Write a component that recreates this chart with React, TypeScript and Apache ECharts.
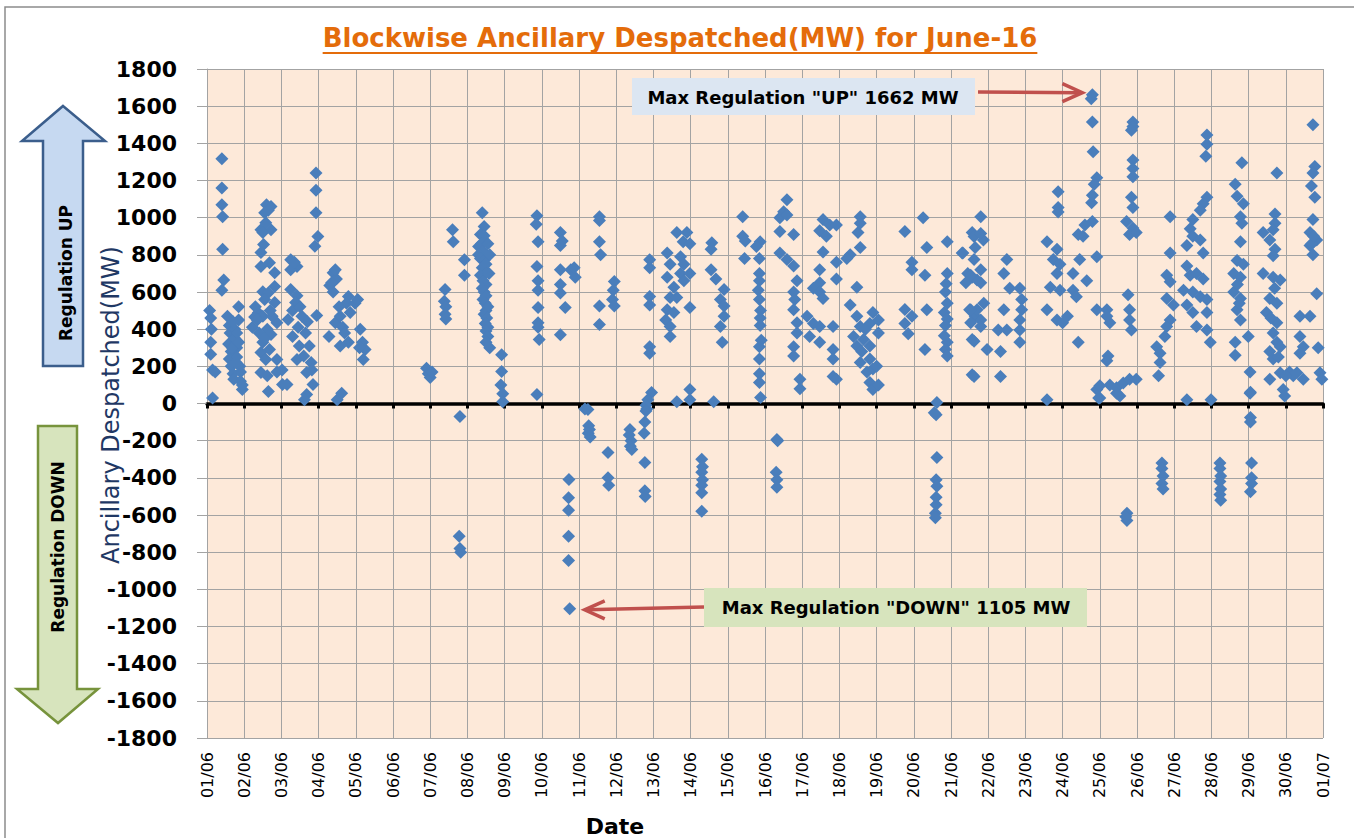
import React, { useEffect, useRef } from "react";
import * as echarts from "echarts";

// x = days elapsed since 01/06 00:00 (block position), y = MW despatched
const dateLabels = [
  "01/06", "02/06", "03/06", "04/06", "05/06", "06/06", "07/06", "08/06", "09/06", "10/06",
  "11/06", "12/06", "13/06", "14/06", "15/06", "16/06", "17/06", "18/06", "19/06", "20/06",
  "21/06", "22/06", "23/06", "24/06", "25/06", "26/06", "27/06", "28/06", "29/06", "30/06", "01/07",
];

const week1 = [
  [0.07, 500], [0.1, 460], [0.12, 400], [0.1, 330], [0.1, 265], [0.15, 180], [0.22, 170], [0.15, 30],
  [0.4, 1317], [0.4, 1160], [0.4, 1070], [0.42, 1005], [0.42, 830], [0.45, 665], [0.4, 610],
  [0.55, 470], [0.6, 420], [0.62, 380], [0.58, 320], [0.65, 280], [0.6, 240], [0.65, 200], [0.7, 160],
  [0.72, 130], [0.75, 400], [0.75, 350], [0.8, 300], [0.8, 250], [0.85, 520], [0.85, 450], [0.88, 200],
  [0.9, 170], [0.9, 120], [0.95, 75], [0.95, 100], [0.7, 440], [0.8, 380], [0.68, 300], [0.78, 220], [0.85, 330],
  [1.6, 1070], [1.72, 1060], [1.65, 1040], [1.55, 1027], [1.58, 973], [1.45, 935], [1.72, 935], [1.5, 920],
  [1.52, 855], [1.45, 812], [1.68, 758], [1.45, 737], [1.82, 704], [1.82, 629], [1.5, 602], [1.65, 596],
  [1.82, 543], [1.38, 489], [1.5, 470], [1.28, 465], [1.88, 435], [1.22, 410], [1.62, 400], [1.72, 371],
  [1.5, 330], [1.68, 290], [1.45, 275], [1.58, 237], [1.88, 237], [1.45, 167], [1.62, 150], [1.88, 170],
  [1.65, 65], [1.35, 450], [1.4, 380], [1.55, 350], [1.75, 470], [1.3, 520], [1.55, 560], [1.7, 500],
  [2.03, 102], [2.02, 180], [2.25, 774], [2.42, 737], [2.25, 720], [2.35, 760], [2.25, 613], [2.42, 580],
  [2.38, 543], [2.18, 452], [2.55, 470], [2.45, 410], [2.65, 380], [2.3, 360], [2.48, 310], [2.75, 310],
  [2.6, 255], [2.42, 237], [2.8, 220], [2.68, 167], [2.15, 102], [2.68, 48], [2.62, 20], [2.85, 102],
  [2.82, 180], [2.93, 1241], [2.93, 1147], [2.93, 1027], [2.98, 898], [2.9, 846], [2.95, 473], [2.3, 500],
  [2.5, 520], [2.7, 440],
  [3.39, 704], [3.48, 670], [3.3, 635], [3.39, 600], [3.28, 360], [3.45, 435], [3.58, 470], [3.8, 576],
  [3.75, 540], [3.85, 490], [3.65, 410], [3.8, 330], [3.58, 310], [3.5, 20], [3.62, 55], [3.45, 720],
  [3.35, 650], [3.7, 380], [3.55, 520],
  [4.12, 400], [4.18, 330], [4.25, 290], [4.2, 237], [3.98, 540], [4.05, 560], [4.1, 300],
  [5.9, 190], [5.95, 160], [6.0, 140], [6.05, 170], [6.4, 613], [6.38, 550], [6.42, 520], [6.4, 480],
  [6.42, 455], [6.6, 935], [6.62, 870], [6.92, 774], [6.92, 690], [6.8, -70], [6.78, -715], [6.8, -780],
  [6.82, -800],
];

const week2 = [
  [7.4, 1027], [7.45, 952], [7.35, 910], [7.45, 903], [7.3, 845], [7.38, 860], [7.42, 820], [7.3, 800],
  [7.35, 780], [7.45, 770], [7.5, 750], [7.4, 730], [7.48, 700], [7.35, 690], [7.42, 660], [7.5, 640],
  [7.4, 620], [7.45, 600], [7.5, 580], [7.42, 560], [7.48, 540], [7.55, 520], [7.5, 500], [7.45, 480],
  [7.52, 460], [7.48, 430], [7.55, 410], [7.5, 390], [7.55, 360], [7.5, 330], [7.6, 300], [7.92, 263],
  [7.92, 172], [7.9, 100], [7.95, 52], [7.95, 10], [7.55, 860], [7.6, 800], [7.58, 700],
  [8.87, 1010], [8.85, 965], [8.9, 870], [8.87, 737], [8.9, 660], [8.9, 610], [8.9, 516], [8.9, 435],
  [8.9, 410], [8.93, 344], [8.87, 48],
  [9.5, 920], [9.55, 875], [9.5, 850], [9.5, 720], [9.78, 720], [9.87, 730], [9.9, 680], [9.5, 640],
  [9.5, 595], [9.63, 516], [9.5, 370], [9.73, -409], [9.72, -507], [9.72, -574], [9.72, -714],
  [9.72, -845], [9.75, -1105],
  [10.16, -30], [10.24, -32], [10.26, -120], [10.28, -140], [10.25, -160], [10.3, -180], [10.78, -264],
  [10.78, -400], [10.8, -440], [10.55, 1005], [10.55, 985], [10.55, 870], [10.58, 800], [10.95, 656],
  [10.92, 610], [10.9, 560], [10.95, 525], [10.55, 525], [10.55, 425],
  [11.9, 774], [11.9, 730], [11.9, 576], [11.9, 530], [11.9, 306], [11.9, 270], [11.95, 59], [11.85, 20],
  [11.82, -30], [11.37, -140], [11.35, -170], [11.4, -200], [11.38, -230], [11.42, -247], [11.77, -100],
  [11.75, -160], [11.77, -317], [11.77, -470], [11.78, -500], [11.8, -10], [11.8, -40],
  [12.63, 920], [12.9, 920], [12.8, 870], [12.98, 860], [12.37, 810], [12.73, 790], [12.45, 750],
  [12.82, 750], [12.37, 680], [12.73, 700], [12.98, 700], [12.55, 625], [12.82, 660], [12.45, 570],
  [12.63, 570], [12.37, 505], [12.55, 490], [12.98, 516], [12.33, 450], [12.45, 415], [12.45, 360],
  [12.63, 10], [12.98, 75], [12.98, 20],
  [13.57, 865], [13.55, 830], [13.55, 720], [13.68, 670], [13.9, 613], [13.8, 560], [13.9, 525],
  [13.9, 470], [13.8, 415], [13.85, 330], [13.62, 10], [13.3, -300], [13.32, -340], [13.3, -370],
  [13.32, -410], [13.3, -440], [13.3, -480], [13.3, -580],
];

const week3 = [
  [14.4, 1005], [14.4, 900], [14.47, 875], [14.87, 870], [14.77, 845], [14.45, 780], [14.85, 780],
  [14.85, 700], [14.85, 660], [14.82, 610], [14.85, 306], [14.85, 240], [14.85, 160], [14.85, 113],
  [14.88, 32], [14.85, 560], [14.88, 500], [14.87, 460], [14.87, 420], [14.9, 340],
  [15.59, 1097], [15.5, 1032], [15.4, 1000], [15.59, 1015], [15.4, 925], [15.77, 910], [15.4, 810],
  [15.59, 775], [15.77, 740], [15.86, 660], [15.77, 600], [15.8, 560], [15.77, 505], [15.86, 435],
  [15.86, 380], [15.77, 305], [15.77, 255], [15.94, 130], [15.94, 80], [15.32, -194], [15.34, -200],
  [15.3, -370], [15.32, -410], [15.32, -450],
  [16.56, 990], [16.74, 960], [16.92, 960], [16.47, 930], [16.65, 900], [16.56, 815], [16.92, 760],
  [16.47, 720], [16.47, 650], [16.3, 620], [16.47, 600], [16.56, 565], [16.13, 470], [16.3, 430],
  [16.47, 415], [16.83, 415], [16.2, 360], [16.47, 330], [16.83, 290], [16.83, 240], [16.83, 145],
  [16.92, 130], [16.92, 670],
  [17.56, 1005], [17.56, 970], [17.5, 920], [17.56, 840], [17.29, 800], [17.2, 780], [17.47, 625],
  [17.29, 530], [17.47, 470], [17.9, 490], [17.56, 415], [17.82, 430], [17.38, 360], [17.65, 345],
  [17.47, 310], [17.82, 310], [17.56, 220], [17.82, 240], [17.74, 170], [17.9, 185], [17.82, 113],
  [17.9, 75], [17.7, 400], [17.6, 280], [18.05, 450], [18.05, 380], [18.0, 200], [18.05, 100],
  [18.76, 925], [18.95, 760], [18.95, 720], [18.76, 506], [18.95, 470], [18.76, 430], [18.85, 375],
  [19.25, 1000], [19.35, 840], [19.3, 690], [19.3, 290], [19.35, 505], [19.9, 870], [19.9, 700],
  [19.87, 645], [19.85, 600], [19.9, 540], [19.82, 490], [19.9, 455], [19.85, 420], [19.82, 365],
  [19.9, 330], [19.85, 290], [19.9, 255], [19.62, 5], [19.6, -60], [19.62, -290], [19.6, -410],
  [19.62, -445], [19.6, -505], [19.6, -545], [19.58, -590], [19.58, -615], [19.55, -50],
  [20.57, 920], [20.3, 810], [20.65, 840], [20.45, 700], [20.57, 680], [20.7, 665], [20.5, 505],
  [20.65, 470], [20.57, 345], [20.57, 155],
];

const week4 = [
  [20.8, 1005], [20.62, 898], [20.87, 880], [20.8, 915], [20.32, 810], [20.62, 775], [20.8, 720],
  [20.53, 690], [20.8, 650], [20.4, 650], [20.88, 540], [20.7, 505], [20.53, 505], [20.8, 450],
  [20.53, 435], [20.8, 415], [20.62, 335], [20.97, 290], [20.62, 145],
  [21.5, 775], [21.42, 700], [21.58, 620], [21.85, 620], [21.9, 560], [21.9, 505], [21.42, 505],
  [21.27, 395], [21.5, 395], [21.85, 450], [21.85, 395], [21.85, 330], [21.33, 280], [21.33, 145],
  [22.58, 20], [22.88, 1140], [22.88, 1055], [22.88, 1030], [22.58, 870], [22.85, 830], [22.75, 775],
  [22.93, 750], [22.85, 700], [22.67, 625], [22.93, 610], [22.58, 505], [22.85, 450], [23.0, 435],
  [23.13, 470],
  [23.28, 700], [23.46, 775], [23.55, 900], [23.42, 910], [23.28, 610], [23.37, 575], [23.65, 660],
  [23.42, 330], [23.6, 960], [23.8, 980], [23.78, 1080], [23.8, 1120], [23.92, 1215], [23.85, 1180],
  [23.82, 1355], [23.8, 1515], [23.8, 1662], [23.77, 1640], [23.92, 790], [23.92, 505], [23.92, 75],
  [23.97, 30],
  [24.19, 505], [24.27, 435], [24.19, 470], [24.22, 255], [24.19, 230], [24.0, 95], [24.27, 100],
  [24.45, 85], [24.54, 40], [24.63, 110], [24.8, 130], [24.98, 130], [24.45, 55], [24.0, 30],
  [24.89, 1515], [24.89, 1490], [24.85, 1470], [24.89, 1310], [24.89, 1265], [24.89, 1220],
  [24.85, 1110], [24.89, 1055], [24.72, 980], [24.89, 945], [24.8, 910], [24.98, 920], [24.76, 585],
  [24.8, 505], [24.8, 450], [24.85, 395], [24.73, -590], [24.73, -630], [24.7, -610],
  [25.53, 306], [25.62, 270], [25.62, 220], [25.58, 150], [25.89, 1005], [25.89, 810], [25.8, 690],
  [25.89, 655], [25.8, 565], [25.98, 530], [25.89, 450], [25.8, 415], [25.75, 360], [25.67, -320],
  [25.67, -350], [25.7, -390], [25.67, -430], [25.7, -460],
  [26.34, 20], [26.88, 1445], [26.88, 1395], [26.85, 1330], [26.88, 1110], [26.78, 1075], [26.7, 1040],
  [26.5, 990], [26.43, 940], [26.5, 900], [26.34, 850], [26.7, 880], [26.78, 810], [26.34, 740],
  [26.43, 690], [26.6, 700], [26.78, 670], [26.25, 610], [26.5, 600], [26.7, 575], [26.88, 560],
  [26.34, 530], [26.5, 490], [26.88, 490], [26.6, 415], [26.88, 395], [26.97, 330], [26.99, 20],
  [27.23, -320], [27.23, -350], [27.25, -390], [27.23, -420], [27.25, -460], [27.23, -490], [27.25, -520],
];

const week5 = [
  [27.82, 1295], [27.64, 1180], [27.69, 1115], [27.86, 1075], [27.78, 1005], [27.82, 970], [27.78, 870],
  [27.69, 770], [27.86, 750], [27.6, 700], [27.78, 680], [27.6, 600], [27.78, 565], [27.69, 505],
  [27.78, 450], [27.64, 330], [27.64, 260], [27.99, 360], [28.04, 170], [28.04, 55], [28.05, 60],
  [28.05, -75], [28.05, -100], [28.08, -320], [28.08, -400], [28.08, -430], [28.05, -475], [27.7, 640],
  [27.75, 540],
  [28.76, 1240], [28.71, 1020], [28.71, 970], [28.66, 935], [28.39, 920], [28.57, 880], [28.71, 830],
  [28.66, 795], [28.39, 700], [28.66, 680], [28.85, 665], [28.57, 565], [28.76, 540], [28.48, 490],
  [28.76, 435], [28.66, 380], [28.76, 330], [28.57, 280], [28.66, 240], [28.85, 305], [28.57, 130],
  [28.85, 165], [29.1, 170], [29.3, 165], [29.47, 130], [28.93, 75], [28.97, 40], [29.2, 150],
  [29.0, 150], [28.6, 460], [28.7, 620], [28.8, 250],
  [29.73, 1500], [29.78, 1275], [29.73, 1240], [29.69, 1170], [29.78, 1110], [29.73, 990], [29.65, 920],
  [29.83, 880], [29.65, 850], [29.73, 800], [29.83, 590], [29.38, 470], [29.65, 470], [29.38, 360],
  [29.47, 305], [29.38, 270], [29.87, 300], [29.92, 165], [29.97, 130], [29.7, 860], [29.75, 900],
];

const TITLE = "Blockwise Ancillary Despatched(MW) for June-16";
const FONT = "'DejaVu Sans', sans-serif";

function measure(text: string, font: string): number {
  const c = document.createElement("canvas").getContext("2d");
  if (!c) return text.length * 15;
  c.font = font;
  return c.measureText(text).width;
}

export default function App() {
  const ref = useRef<HTMLDivElement>(null);

  useEffect(() => {
    if (!ref.current) return;
    const chart = echarts.init(ref.current, null, { renderer: "svg" });
    const points = [...week1, ...week2, ...week3, ...week4, ...week5];
    const gridColor = "#A3A3A3";

    chart.setOption({
      animation: false,
      backgroundColor: "#ffffff",
      grid: {
        left: 207, top: 69, width: 1116, height: 669,
        show: true, backgroundColor: "#FDE9D9", borderWidth: 0,
      },
      xAxis: [
        {
          type: "value", min: 0, max: 30, interval: 1, position: "bottom",
          axisLine: { show: false, onZero: false },
          axisTick: { show: false },
          splitLine: { show: true, lineStyle: { color: gridColor, width: 1 } },
          axisLabel: {
            rotate: 90, margin: 14, fontSize: 16, fontFamily: FONT, color: "#000",
            formatter: (v: number) => dateLabels[Math.round(v)] ?? "",
          },
        },
        {
          type: "value", min: 0, max: 30, interval: 1, position: "top",
          axisLine: { show: true, onZero: true, lineStyle: { color: "#000", width: 3.5 } },
          axisTick: { show: true, inside: true, length: 5, lineStyle: { color: "#000", width: 3 } },
          axisLabel: { show: false },
          splitLine: { show: false },
        },
      ],
      yAxis: {
        type: "value", min: -1800, max: 1800, interval: 200,
        axisLine: { show: true, lineStyle: { color: gridColor, width: 1 } },
        axisTick: { show: true, length: 10, lineStyle: { color: gridColor, width: 1 } },
        splitLine: { show: true, lineStyle: { color: gridColor, width: 1 } },
        axisLabel: {
          margin: 30, fontSize: 22, fontWeight: "bold", fontFamily: FONT, color: "#000",
          formatter: (v: number) => String(v),
        },
      },
      series: [
        {
          type: "scatter", xAxisIndex: 0, yAxisIndex: 0,
          symbol: "diamond", symbolSize: 13,
          itemStyle: { color: "#4A7EBB", opacity: 1 },
          data: points,
          z: 5,
        },
      ],
    });

    let maxUp = points[0];
    let maxDown = points[0];
    for (const p of points) {
      if (p[1] > maxUp[1]) maxUp = p;
      if (p[1] < maxDown[1]) maxDown = p;
    }
    const pu = chart.convertToPixel({ seriesIndex: 0 }, maxUp) as number[];
    const pd = chart.convertToPixel({ seriesIndex: 0 }, maxDown) as number[];

    const titleFont = `bold 26px ${FONT}`;
    const tw = measure(TITLE, titleFont);
    const titleX = 680;

    const red = "#C0504D";
    const upTip = [pu[0] - 10, pu[1] - 2];
    const dnTip = [pd[0] + 15, pd[1] + 1];

    const txt = (text: string, x: number, y: number, font: string, fill: string, rotation = 0) => ({
      type: "text", x, y, rotation, z: 100,
      style: {
        text, font, fill,
        align: "center", verticalAlign: "middle",
        textAlign: "center", textVerticalAlign: "middle",
      },
    });

    chart.setOption({
      graphic: [
        { type: "rect", shape: { x: 5, y: 7, width: 1400, height: 900 }, style: { fill: "none", stroke: "#8C8C8C", lineWidth: 1.5 }, z: 1, silent: true },
        txt(TITLE, titleX, 38, titleFont, "#E46C0A"),
        { type: "line", shape: { x1: titleX - tw / 2, y1: 53, x2: titleX + tw / 2, y2: 53 }, style: { stroke: "#E46C0A", lineWidth: 2 }, z: 100 },
        txt("Ancillary Despatched(MW)", 111, 405, `24px ${FONT}`, "#1F3864", Math.PI / 2),
        {
          type: "polygon", z: 90,
          shape: { points: [[63, 106], [105, 141], [83, 141], [83, 366], [43, 366], [43, 141], [22, 141]] },
          style: { fill: "#C6D9F1", stroke: "#3B5E8C", lineWidth: 2.5 },
        },
        txt("Regulation UP", 66, 273, `bold 17px ${FONT}`, "#000", Math.PI / 2),
        {
          type: "polygon", z: 90,
          shape: { points: [[38, 426], [77, 426], [77, 689], [98, 689], [58, 723], [17, 689], [38, 689]] },
          style: { fill: "#D7E4BD", stroke: "#77933C", lineWidth: 2.5 },
        },
        txt("Regulation DOWN", 58, 547, `bold 17px ${FONT}`, "#000", Math.PI / 2),
        { type: "rect", z: 95, shape: { x: 632, y: 78, width: 343, height: 37 }, style: { fill: "#DCE6F2" } },
        txt(`Max Regulation "UP" ${maxUp[1]} MW`, 803, 97, `bold 18px ${FONT}`, "#000"),
        { type: "line", z: 96, shape: { x1: 978, y1: 92, x2: upTip[0] - 2, y2: upTip[1] }, style: { stroke: red, lineWidth: 3.5 } },
        { type: "polyline", z: 96, shape: { points: [[upTip[0] - 20, upTip[1] - 9], [upTip[0], upTip[1]], [upTip[0] - 20, upTip[1] + 9]] }, style: { stroke: red, lineWidth: 3.5, fill: "none" } },
        { type: "rect", z: 95, shape: { x: 704, y: 588, width: 383, height: 39 }, style: { fill: "#D7E4BD" } },
        txt(`Max Regulation "DOWN" ${Math.abs(maxDown[1])} MW`, 896, 607, `bold 18px ${FONT}`, "#000"),
        { type: "line", z: 96, shape: { x1: 704, y1: 607, x2: dnTip[0] + 2, y2: dnTip[1] }, style: { stroke: red, lineWidth: 3.5 } },
        { type: "polyline", z: 96, shape: { points: [[dnTip[0] + 20, dnTip[1] - 9], [dnTip[0], dnTip[1]], [dnTip[0] + 20, dnTip[1] + 9]] }, style: { stroke: red, lineWidth: 3.5, fill: "none" } },
        txt("Date", 615, 826, `bold 22px ${FONT}`, "#000"),
      ],
    });

    return () => chart.dispose();
  }, []);

  return (
    <div
      ref={ref}
      style={{ position: "fixed", left: 0, top: 0, width: 1354, height: 838, background: "#fff" }}
    />
  );
}
